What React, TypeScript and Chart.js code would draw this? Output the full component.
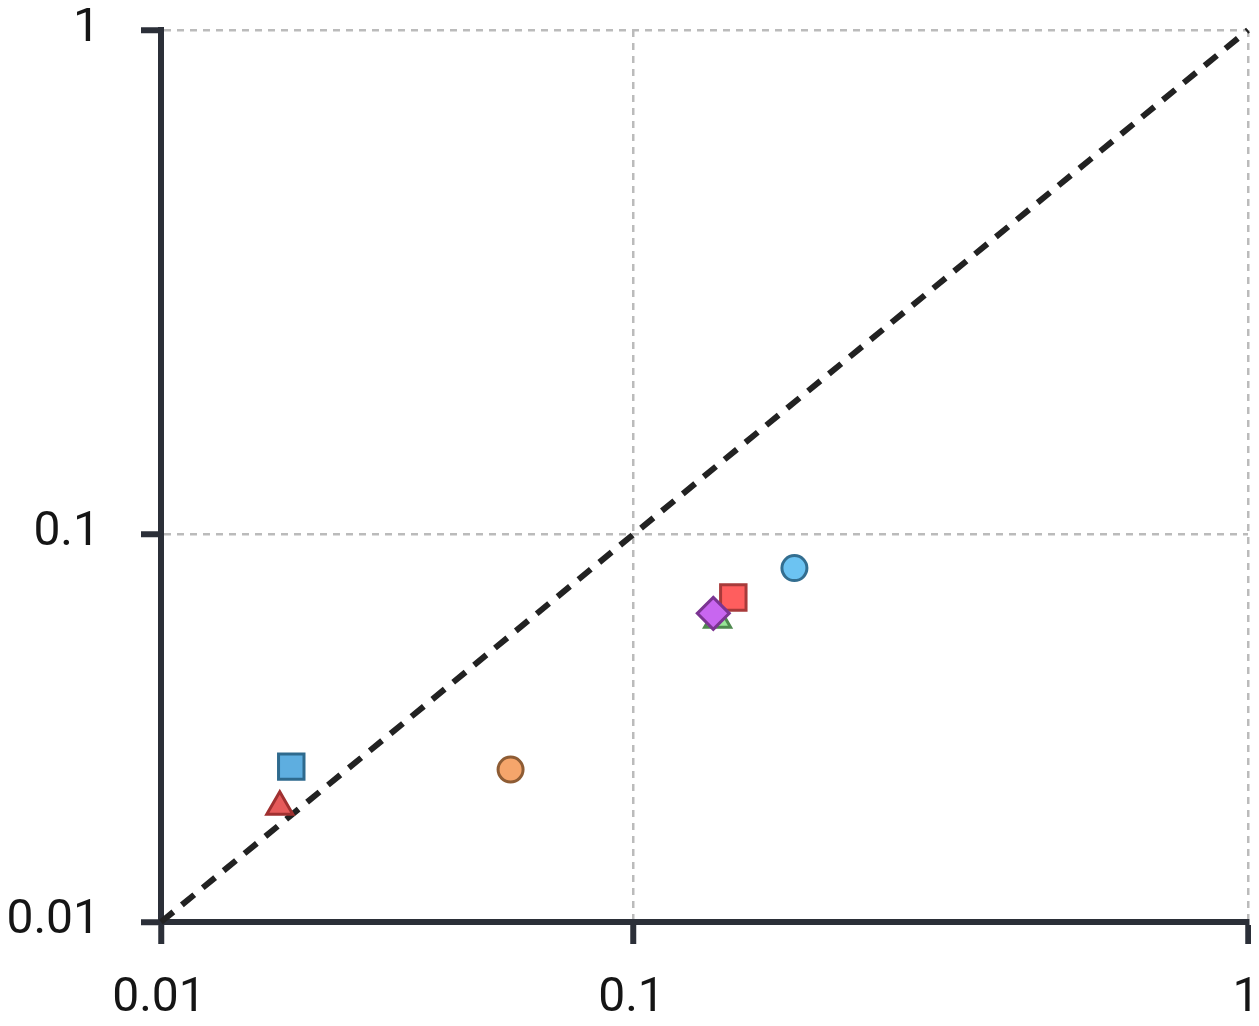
import React, { useEffect, useRef } from "react";
import { Chart, registerables } from "chart.js";

Chart.register(...registerables);

// ---- data ----
const pointNames = ["A", "B", "C", "D", "E", "F", "G"];
const xValues = [0.022, 0.0207, 0.0606, 0.139, 0.1367, 0.1477, 0.1866];
const yValues = [0.0296, 0.0232, 0.0291, 0.0655, 0.0677, 0.0733, 0.0848];
const tickValues = [0.01, 0.1, 1];
const tickLabels = ["0.01", "0.1", "1"];
const diagonalValues = [0.01, 1];

// ---- styles (kept apart from data) ----
const markerStyles = [
  { shape: "rect", radius: 18, fill: "#5EAEE0", border: "#2E6A8E" },
  { shape: "triangle", radius: 15, fill: "#E65A5A", border: "#A03030" },
  { shape: "circle", radius: 12.5, fill: "#F5A56B", border: "#8E5C34" },
  { shape: "triangle", radius: 15, fill: "#98E698", border: "#4F8A4F" },
  { shape: "rectRot", radius: 16, fill: "#C866F0", border: "#7B3492" },
  { shape: "rect", radius: 18, fill: "#FF5E5E", border: "#A83A3A" },
  { shape: "circle", radius: 12.5, fill: "#6CC3F2", border: "#336E90" },
];
const drawOrder = [3, 2, 1, 5, 0, 4, 1];

const OFFSET = 0.01;
const tf = (v: number) => Math.log10(v + OFFSET);

const AXIS_COLOR = "#2B2F38";
const GRID_COLOR = "#BBBBBB";
const FONT = { family: "Roboto", size: 48 };

export default function App() {
  const canvasRef = useRef<HTMLCanvasElement | null>(null);

  useEffect(() => {
    if (!canvasRef.current) return;

    const pointSets = pointNames.map((name, i) => {
      const s = markerStyles[i];
      return {
        type: "scatter" as const,
        label: name,
        data: [{ x: tf(xValues[i]), y: tf(yValues[i]) }],
        pointStyle: s.shape,
        pointRadius: s.radius,
        pointBackgroundColor: s.fill,
        pointBorderColor: s.border,
        pointBorderWidth: 3,
        order: drawOrder[i],
      };
    });

    const diagonal = {
      type: "line" as const,
      label: "y = x",
      data: diagonalValues.map((v) => ({ x: tf(v), y: tf(v) })),
      borderColor: "#222222",
      borderWidth: 6,
      borderDash: [16, 11],
      pointRadius: 0,
      fill: false,
      order: 20,
      clip: false as any,
    };

    const tickTransformed = tickValues.map(tf);
    const labelFor = (value: number) => {
      let best = 0;
      for (let i = 1; i < tickTransformed.length; i++) {
        if (Math.abs(tickTransformed[i] - value) < Math.abs(tickTransformed[best] - value)) best = i;
      }
      return tickLabels[best];
    };

    const axisCommon = (isX: boolean) => ({
      type: "linear" as const,
      min: tf(tickValues[0]),
      max: tf(tickValues[tickValues.length - 1]),
      afterBuildTicks: (scale: any) => {
        scale.ticks = tickTransformed.map((v) => ({ value: v }));
      },
      afterFit: (scale: any) => {
        if (isX) {
          scale.height = 96;
        } else {
          scale.width = 153;
        }
        scale.paddingLeft = 0;
        scale.paddingRight = 0;
        scale.paddingTop = 0;
        scale.paddingBottom = 0;
      },
      grid: {
        display: true,
        drawOnChartArea: true,
        drawTicks: true,
        color: GRID_COLOR,
        lineWidth: 2.5,
        tickLength: isX ? 22 : 20,
        tickWidth: 6,
        tickColor: AXIS_COLOR,
      },
      border: {
        display: true,
        color: AXIS_COLOR,
        width: 6,
        dash: [7, 6],
      },
      ticks: {
        autoSkip: false,
        maxRotation: 0,
        minRotation: 0,
        color: "#151515",
        font: FONT,
        padding: isX ? 26 : 41,
        labelOffset: isX ? -2 : -1,
        callback: (value: any) => labelFor(Number(value)),
      },
    });

    const chart = new Chart(canvasRef.current, {
      data: { datasets: [...pointSets, diagonal] as any },
      options: {
        animation: false,
        responsive: true,
        maintainAspectRatio: false,
        layout: { autoPadding: false, padding: { top: 22, right: 3, left: 0, bottom: 0 } },
        plugins: {
          legend: { display: false },
          tooltip: { enabled: false },
          title: { display: false },
        },
        scales: {
          x: { ...axisCommon(true), position: "bottom" },
          y: { ...axisCommon(false), position: "left" },
        } as any,
      },
    });

    return () => chart.destroy();
  }, []);

  return (
    <div style={{ position: "relative", width: "1243px", height: "1010px" }}>
      <canvas ref={canvasRef} />
    </div>
  );
}
